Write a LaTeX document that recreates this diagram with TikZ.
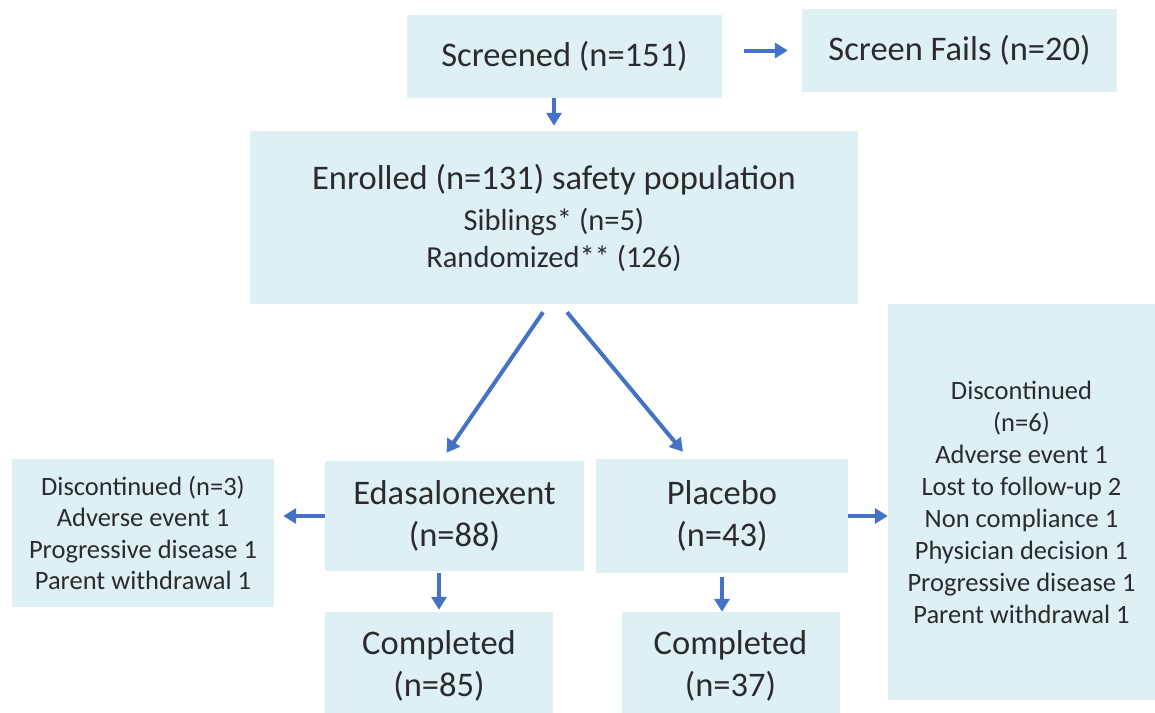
\documentclass[tikz,border=0pt]{standalone}
\usepackage{fontspec}
\setmainfont{Carlito}
\usetikzlibrary{arrows.meta,calc}
\definecolor{boxfill}{HTML}{DFF0F5}
\definecolor{arrowblue}{HTML}{4472C4}
\definecolor{textgray}{HTML}{2B2B2B}
\begin{document}
\begin{tikzpicture}[x=1pt,y=-1pt,%
% common options for the boxes:
box/.style = {fill=boxfill, text=textgray, align=center, inner sep=0,
            font=\fontsize{34.5}{42}\selectfont},
% smaller text for the discontinued boxes:
smalltext/.style = {font=\fontsize{26.5}{32}\selectfont},
% common options for the arrows:
arr/.style = {draw=arrowblue, line width=4pt, -{Triangle[length=13pt,width=15pt]}}]
\useasboundingbox (0,0) rectangle (1155,712);
\node[box,minimum width=315pt,minimum height=83pt] (scr) at (564.5,56.5) {Screened (n=151)};
\node[box,minimum width=315pt,minimum height=83pt] (fail) at (959.5,50.5) {Screen Fails (n=20)};
\node[box,minimum width=608pt,minimum height=173pt,font=\fontsize{30.5}{37}\selectfont] (enr) at (554,217.5)
  {{\fontsize{34.5}{42}\selectfont Enrolled (n=131) safety population}\\[4pt]
   Siblings* (n=5)\\ Randomized** (126)};
\node[box,minimum width=259pt,minimum height=110pt] (eda) at (454.5,516) {Edasalonexent\\(n=88)};
\node[box,minimum width=252pt,minimum height=114pt] (pla) at (722,516) {Placebo\\(n=43)};
\node[box,smalltext,minimum width=262pt,minimum height=148pt,font=\fontsize{26.5}{31.5}\selectfont] (disL) at (143,533)
  {Discontinued (n=3)\\Adverse event 1\\Progressive disease 1\\Parent withdrawal 1};
\node[box,smalltext,minimum width=267pt,minimum height=396pt] (disR) at (1021.5,502)
  {Discontinued\\(n=6)\\Adverse event 1\\Lost to follow-up 2\\Non compliance 1\\Physician decision 1\\Progressive disease 1\\Parent withdrawal 1};
\node[box,minimum width=228pt,minimum height=108pt] (comL) at (439,666) {Completed\\(n=85)};
\node[box,minimum width=218pt,minimum height=108pt] (comR) at (730.5,666) {Completed\\(n=37)};
\draw[arr,shorten >=5pt] (scr.south -| enr.north) -- (enr.north);
\draw[arr,shorten <=22pt,shorten >=14pt] (scr.east |- fail.west) -- (fail.west);
\draw[arr] ($(enr.south)+(-11,8)$) -- ($(eda.north)+(-8,-8)$);
\draw[arr] ($(enr.south)+(13,8)$) -- ($(pla.north)+(-39,-7)$);
\draw[arr,shorten >=9pt] (eda.west) -- (eda.west -| disL.east);
\draw[arr] (pla.east) -- (pla.east -| disR.west);
\draw[arr,shorten <=2pt,shorten >=2pt] (comL.north |- eda.south) -- (comL.north);
\draw[arr,shorten <=4pt] (pla.south) -- (pla.south |- comR.north);
\end{tikzpicture}
\end{document}
